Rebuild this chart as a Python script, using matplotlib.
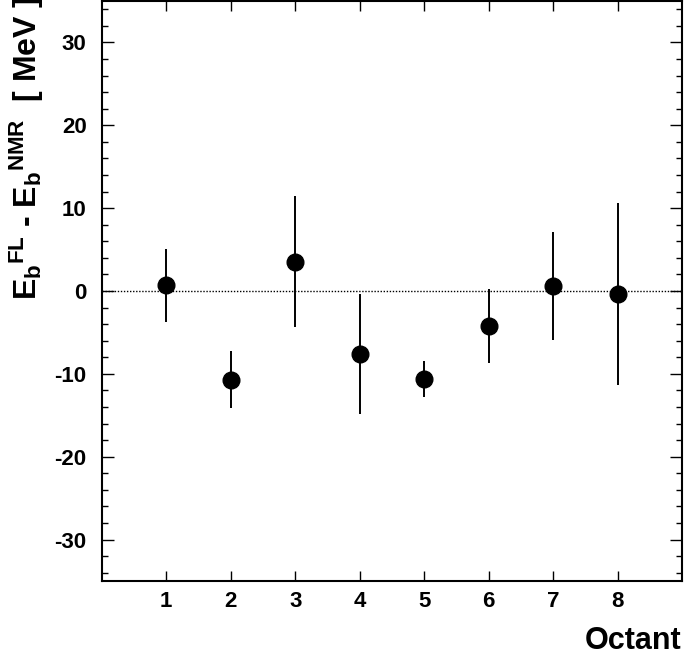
import numpy as np
import matplotlib
matplotlib.use("Agg")
import matplotlib.pyplot as plt
from matplotlib.ticker import MultipleLocator

# Data
octant = [1, 2, 3, 4, 5, 6, 7, 8]
delta_eb = [0.7, -10.7, 3.55, -7.6, -10.6, -4.2, 0.6, -0.4]
delta_err = [4.4, 3.45, 7.85, 7.2, 2.2, 4.45, 6.5, 11.0]
y_ticks = [-30, -20, -10, 0, 10, 20, 30]

plt.rcParams['font.family'] = ['Liberation Sans', 'DejaVu Sans']
plt.rcParams['font.weight'] = 'bold'
plt.rcParams['axes.unicode_minus'] = False
plt.rcParams['mathtext.fontset'] = 'custom'
plt.rcParams['mathtext.rm'] = 'Liberation Sans:bold'
plt.rcParams['mathtext.it'] = 'Liberation Sans:bold'
plt.rcParams['mathtext.bf'] = 'Liberation Sans:bold'

fig = plt.figure(figsize=(6.85, 6.58), dpi=100)
ax = fig.add_axes([0.1486, 0.117, 0.847, 0.8816])

# dotted zero line
ax.axhline(0, color='k', lw=1.0, ls=(0, (1, 1.2)), zorder=1)
ax.errorbar(octant, delta_eb, yerr=delta_err, fmt='o', color='k',
            ms=12, elinewidth=1.4, capsize=0, zorder=3)

ax.set_xlim(0, 9)
ax.set_ylim(-35, 35)
ax.set_xticks(octant)
ax.set_yticks(y_ticks)
ax.yaxis.set_minor_locator(MultipleLocator(2))

for s in ax.spines.values():
    s.set_linewidth(1.5)

ax.tick_params(axis='both', which='both', direction='in', top=True, right=True,
               width=1.0, labelsize=16)
ax.tick_params(axis='x', which='major', length=7.5, pad=7.0)
ax.tick_params(axis='y', which='major', length=8.5, pad=11.0)
ax.tick_params(axis='y', which='minor', length=4.3)
for lab in ax.get_xticklabels() + ax.get_yticklabels():
    lab.set_fontweight('bold')

fig.text(0.039, 1.005, r'$E_b{}^{FL}$ - $E_b{}^{NMR}$  [ MeV ]', rotation=90,
         ha='center', va='top', fontsize=23, fontweight='bold')
fig.text(681 / 685, 9 / 658, 'Octant', ha='right', va='baseline',
         fontsize=22, fontweight='bold')

fig.savefig('out.png', dpi=100)
